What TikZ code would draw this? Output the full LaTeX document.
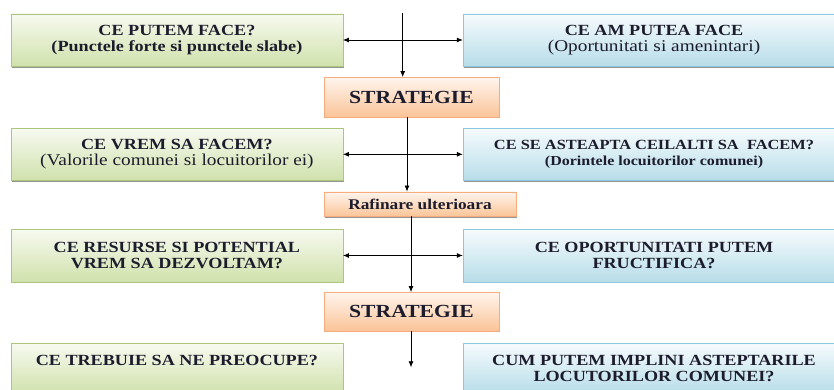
\documentclass[tikz,border=0pt]{standalone}
\usepackage{fontspec}
\setmainfont[FakeStretch=1.17]{Liberation Serif}
\usetikzlibrary{arrows.meta,shadows}

\definecolor{verdesus}{RGB}{247,250,240}
\definecolor{verdejos}{RGB}{208,225,172}
\definecolor{verdemargine}{RGB}{172,198,124}
\definecolor{albastrusus}{RGB}{246,251,253}
\definecolor{albastrujos}{RGB}{183,221,233}
\definecolor{albastrumargine}{RGB}{140,200,222}
\definecolor{portsus}{RGB}{255,245,238}
\definecolor{portjos}{RGB}{250,196,152}
\definecolor{portmargine}{RGB}{246,172,124}
\definecolor{textinchis}{RGB}{28,28,44}

\newcommand{\titlu}[1]{{\fontsize{15.5}{16}\selectfont\bfseries #1}}
\newcommand{\detalii}[1]{{\fontsize{16.5}{16}\selectfont #1}}

\tikzset{
    cutie/.style={minimum height=52.5pt, inner sep=0pt, align=center, text=textinchis,
        font=\fontsize{16}{16.5}\selectfont,
        drop shadow={shadow xshift=1.2pt, shadow yshift=-1.5pt, fill=black!70, opacity=.6}},
    verde/.style={cutie, draw=verdemargine, top color=verdesus, bottom color=verdejos, minimum width=331.7pt},
    albastru/.style={cutie, draw=albastrumargine, top color=albastrusus, bottom color=albastrujos, minimum width=382pt},
    portocaliu/.style={cutie, draw=portmargine, top color=portsus, bottom color=portjos, minimum width=175pt,
        font=\fontsize{18.5}{20}\selectfont\bfseries},
    sageata/.style={-{Latex[length=6pt,width=5pt]}, line width=0.8pt},
    dubla/.style={{Latex[length=6pt,width=5pt]}-{Latex[length=6pt,width=5pt]}, line width=0.8pt}
}

\begin{document}
\begin{tikzpicture}[x=1pt, y=-1pt]
    \useasboundingbox (0,0) rectangle (834,389);
    \clip (0,0) rectangle (834,389);

    % randul 1
    \node[verde] (g1) at (176.9,40) {\titlu{CE PUTEM FACE?}\\\titlu{(Punctele forte si punctele slabe)}};
    \node[albastru] (b1) at (654,40) {\titlu{CE AM PUTEA FACE}\\\detalii{(Oportunitati si amenintari)}};
    \node[portocaliu, minimum height=39.5pt] (s1) at (411.5,97) {STRATEGIE};

    % randul 2
    \node[verde] (g2) at (176.9,154.3) {\titlu{CE VREM SA FACEM?}\\\detalii{(Valorile comunei si locuitorilor ei)}};
    \node[albastru] (b2) at (654,154.3) {{\fontsize{14}{16}\selectfont\bfseries CE SE ASTEAPTA CEILALTI SA~ FACEM?}\\{\fontsize{13.7}{16}\selectfont\bfseries (Dorintele locuitorilor comunei)}};
    \node[portocaliu, minimum width=192pt, minimum height=24.5pt, font=\fontsize{14.8}{16}\selectfont\bfseries] (r) at (420,204) {Rafinare ulterioara};

    % randul 3
    \node[verde] (g3) at (176.9,255.5) {\titlu{CE RESURSE SI POTENTIAL}\\\titlu{VREM SA DEZVOLTAM?}};
    \node[albastru] (b3) at (654,255.5) {\titlu{CE OPORTUNITATI PUTEM}\\\titlu{FRUCTIFICA?}};
    \node[portocaliu, minimum height=38.5pt] (s2) at (411.5,311.5) {STRATEGIE};

    % randul 4
    \node[verde, minimum height=50pt] (g4) at (176.9,368.3) {\titlu{CE TREBUIE SA NE PREOCUPE?}\\ \mbox{}};
    \node[albastru, minimum height=50pt] (b4) at (654,368.3) {\titlu{CUM PUTEM IMPLINI ASTEPTARILE}\\\titlu{LOCUTORILOR COMUNEI?}};

    % sageti
    \coordinate (sus) at (402.7,13);
    \coordinate (jos) at (411,367.3);
    \draw[sageata] (sus) -- (sus |- s1.north);
    \draw[dubla] (g1.east) -- (b1.west);
    \draw[sageata] ([xshift=-4.5pt]s1.south) -- ([xshift=-4.5pt]s1.south |- r.north);
    \draw[dubla] (g2.east) -- (b2.west);
    \draw[sageata] (r.south -| jos) -- (jos |- s2.north);
    \draw[dubla] (g3.east) -- (b3.west);
    \draw[sageata] (s2.south -| jos) -- (jos);
\end{tikzpicture}
\end{document}
